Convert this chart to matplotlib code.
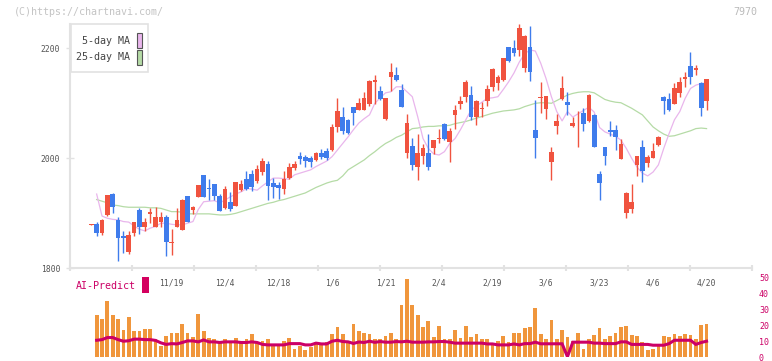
import numpy as np
import matplotlib.pyplot as plt
import matplotlib.transforms as mtransforms
from matplotlib.patches import Rectangle

# ==================================================
# DATA
# ==================================================
opens = [1879, 1880, 1864, 1897, 1935, 1888, 1859, 1830, 1865, 1906,
         1876, 1899, 1876, 1885, 1893, 1846, 1875, 1870, 1931, 1906,
         1930, 1970, 1946, 1954, 1931, 1910, 1921, 1913, 1942, 1962,
         1972, 1958, 1975, 1990, 1955, 1952, 1944, 1965, 1982, 2005,
         2003, 2000, 1997, 2010, 2013, 2015, 2056, 2075, 2070, 2093,
         2088, 2088, 2099, 2139, 2123, 2071, 2147, 2151, 2124, 2010,
         2022, 1985, 2004, 2010, 2019, 2035, 2062, 2030, 2079, 2099,
         2111, 2115, 2075, 2089, 2105, 2129, 2137, 2142, 2202, 2200,
         2196, 2165, 2203, 2051, 2110, 2090, 1994, 2059, 2108, 2103,
         2058, 2067, 2082, 2067, 2079, 1971, 2020, 2051, 2051, 1999,
         1901, 1908, 1987, 2020, 1991, 2001, 2025, 2112, 2108, 2099,
         2119, 2144, 2168, 2161, 2137, 2105]
highs = [1880, 1885, 1889, 1934, 1936, 1894, 1868, 1867, 1884, 1909,
         1891, 1909, 1911, 1902, 1897, 1871, 1909, 1926, 1932, 1913,
         1951, 1970, 1962, 1954, 1935, 1950, 1939, 1956, 1960, 1976,
         1978, 1988, 2000, 1995, 1965, 1956, 1976, 1992, 1995, 2012,
         2006, 2005, 2012, 2017, 2018, 2062, 2109, 2094, 2072, 2094,
         2109, 2121, 2142, 2151, 2131, 2110, 2174, 2166, 2135, 2080,
         2037, 2044, 2026, 2044, 2034, 2054, 2064, 2055, 2097, 2113,
         2143, 2131, 2106, 2103, 2133, 2164, 2151, 2183, 2203, 2215,
         2244, 2225, 2240, 2106, 2139, 2114, 2021, 2081, 2149, 2121,
         2075, 2086, 2091, 2116, 2081, 1977, 2021, 2067, 2060, 2035,
         1939, 1953, 2005, 2034, 2006, 2028, 2040, 2114, 2119, 2137,
         2148, 2157, 2194, 2170, 2139, 2145]
lows = [1878, 1859, 1860, 1895, 1901, 1814, 1828, 1826, 1858, 1862,
        1867, 1882, 1875, 1876, 1822, 1824, 1875, 1869, 1884, 1899,
        1930, 1930, 1925, 1925, 1905, 1907, 1905, 1913, 1940, 1943,
        1940, 1955, 1970, 1924, 1928, 1926, 1935, 1962, 1978, 1990,
        1985, 1985, 1995, 1998, 1996, 2013, 2047, 2044, 2044, 2060,
        2087, 2087, 2095, 2099, 2106, 2070, 2122, 2141, 2093, 2000,
        1979, 1960, 1990, 1978, 2007, 2027, 2034, 1994, 2053, 2090,
        2103, 2069, 2060, 2075, 2095, 2123, 2124, 2141, 2175, 2186,
        2186, 2157, 2141, 2001, 2083, 2071, 1960, 2044, 2106, 2079,
        2057, 2020, 2050, 2066, 2020, 1925, 1987, 2041, 2015, 1998,
        1892, 1900, 1967, 1957, 1984, 2000, 2022, 2080, 2086, 2098,
        2112, 2130, 2135, 2152, 2077, 2088]
closes = [1879, 1864, 1888, 1933, 1911, 1855, 1855, 1860, 1884, 1876,
          1884, 1902, 1894, 1893, 1847, 1847, 1888, 1925, 1885, 1911,
          1951, 1930, 1944, 1931, 1905, 1945, 1907, 1956, 1954, 1945,
          1948, 1980, 1995, 1950, 1947, 1946, 1962, 1985, 1990, 1998,
          1995, 1993, 2010, 2003, 2000, 2057, 2086, 2050, 2046, 2082,
          2100, 2109, 2141, 2142, 2107, 2109, 2157, 2142, 2094, 2065,
          1988, 2009, 2019, 1985, 2033, 2036, 2035, 2050, 2088, 2105,
          2139, 2075, 2105, 2091, 2126, 2162, 2148, 2182, 2176, 2192,
          2237, 2222, 2157, 2037, 2112, 2113, 2012, 2068, 2127, 2096,
          2064, 2068, 2062, 2115, 2021, 1955, 2005, 2048, 2039, 2026,
          1937, 1920, 2004, 1976, 2002, 2014, 2039, 2105, 2088, 2128,
          2139, 2147, 2148, 2164, 2092, 2144]

ma5 = [np.nan, 1935, 1895, 1891, 1889, 1888, 1885, 1884, 1877, 1871,
       1868, 1873, 1876, 1882, 1882, 1880, 1879, 1879, 1882, 1885,
       1907, 1921, 1922, 1923, 1919, 1924, 1930, 1935, 1939, 1945,
       1944, 1942, 1950, 1957, 1964, 1964, 1963, 1962, 1970, 1973,
       1976, 1979, 1985, 1990, 1995, 2003, 2015, 2027, 2039, 2052,
       2064, 2072, 2079, 2100, 2110, 2119, 2121, 2130, 2130, 2121,
       2112, 2076, 2036, 2018, 2008, 2006, 2012, 2027, 2036, 2052,
       2070, 2088, 2095, 2102, 2109, 2110, 2112, 2125, 2139, 2155,
       2175, 2190, 2197, 2195, 2173, 2145, 2112, 2085, 2068, 2085,
       2075, 2081, 2087, 2093, 2084, 2056, 2048, 2044, 2040, 2033,
       2018, 2000, 1984, 1973, 1968, 1975, 1988, 2018, 2045, 2070,
       2085, 2109, 2127, 2133, 2136, 2137]
ma25 = [np.nan, 1925, 1922, 1919, 1915, 1914, 1912, 1911, 1911, 1911,
        1911, 1910, 1910, 1909, 1906, 1903, 1903, 1902, 1899, 1899,
        1899, 1899, 1899, 1898, 1897, 1897, 1898, 1900, 1903, 1906,
        1909, 1912, 1915, 1918, 1920, 1923, 1925, 1928, 1931, 1934,
        1937, 1942, 1947, 1951, 1955, 1958, 1960, 1968, 1979, 1985,
        1991, 1997, 2005, 2012, 2020, 2027, 2032, 2038, 2042, 2048,
        2054, 2055, 2057, 2058, 2058, 2059, 2059, 2060, 2063, 2065,
        2067, 2070, 2073, 2076, 2079, 2082, 2084, 2086, 2087, 2088,
        2090, 2094, 2097, 2100, 2101, 2101, 2100, 2105, 2110, 2115,
        2118, 2120, 2121, 2121, 2119, 2113, 2107, 2104, 2102, 2101,
        2096, 2091, 2085, 2079, 2068, 2057, 2050, 2044, 2040, 2041,
        2044, 2047, 2050, 2054, 2055, 2054]

volume = [np.nan, 26.1, 24.2, 35.4, 26.7, 24.2, 17.3, 25.4, 16.1, 16.7,
          17.9, 17.9, 11.7, 7.3, 13.5, 15.4, 15.4, 21.0, 15.4, 12.9,
          27.3, 16.1, 12.3, 11.7, 10.4, 11.7, 10.4, 12.3, 10.4, 11.7,
          14.8, 9.8, 10.0, 11.1, 6.9, 6.9, 10.0, 12.3, 5.4, 6.9,
          4.2, 6.3, 9.2, 8.5, 9.2, 14.8, 19.2, 14.8, 9.2, 21.0,
          16.1, 15.4, 14.8, 11.7, 11.7, 13.5, 15.4, 11.1, 32.9, 49.2,
          32.9, 26.1, 19.2, 22.9, 12.9, 19.8, 11.1, 11.1, 17.3, 12.3,
          19.8, 12.9, 14.8, 11.1, 11.1, 8.5, 10.4, 13.5, 9.8, 15.4,
          15.4, 18.5, 19.2, 31.0, 14.8, 11.1, 23.5, 11.7, 17.3, 12.9,
          10.4, 15.4, 5.4, 11.7, 14.2, 18.5, 11.7, 13.5, 15.4, 19.2,
          19.8, 14.2, 13.5, 9.8, 4.8, 5.4, 8.0, 13.5, 12.9, 14.8,
          13.5, 14.8, 14.2, 11.1, 20.4, 21.0]
ai_predict = [np.nan, 10.6, 11.0, 12.3, 12.3, 11.0, 10.0, 10.3, 11.3, 11.3,
              11.0, 11.0, 10.5, 9.0, 8.0, 8.5, 8.3, 9.2, 10.2, 10.2,
              9.6, 10.8, 9.6, 9.6, 9.2, 9.6, 9.6, 9.6, 9.2, 9.2,
              9.6, 9.2, 8.0, 7.7, 7.7, 7.7, 7.7, 8.5, 8.5, 8.5,
              7.7, 7.7, 8.8, 8.3, 8.3, 10.0, 10.6, 9.8, 9.6, 8.6,
              9.5, 9.2, 10.0, 9.3, 9.8, 9.4, 9.4, 9.8, 9.6, 10.0,
              9.4, 9.4, 9.4, 9.6, 9.6, 9.8, 9.8, 9.4, 8.8, 8.8,
              8.8, 8.8, 8.8, 8.8, 8.3, 8.3, 7.7, 7.7, 7.7, 8.3,
              7.7, 8.5, 8.5, 9.4, 8.4, 8.4, 8.4, 8.4, 8.4, 0.3,
              9.4, 9.4, 9.4, 9.4, 8.8, 8.8, 8.5, 8.5, 8.5, 9.6,
              9.6, 8.0, 8.0, 8.0, 8.0, 7.5, 7.5, 7.5, 8.5, 10.6,
              10.6, 10.6, 10.6, 8.0, 9.2, 10.0]

date_labels = ["11/19", "12/4", "12/18", "1/6", "1/21", "2/4",
               "2/19", "3/6", "3/23", "4/6", "4/20"]
date_label_idx = [15, 25, 35, 45, 55, 65, 75, 85, 95, 105, 115]
price_ticks = [1800, 2000, 2200]
vol_ticks = [0, 10, 20, 30, 40, 50]

# ==================================================
# STYLE
# ==================================================
W, H, DPI = 772, 361, 100
UP, DOWN = "#f0533f", "#3f7cec"
PINK, GREEN = "#e9b6ec", "#b5dba6"
MAGENTA = "#cc0066"
plt.rcParams["font.family"] = "DejaVu Sans Mono"


def fx(x):
    return x / W


def fy(y):
    return 1 - y / H


x = np.arange(len(closes))
o, h, l, c = map(np.array, (opens, highs, lows, closes))
x_left = -(91.3 - 70) / 5.35
x_right = (752 - 91.3) / 5.35

fig = plt.figure(figsize=(W / DPI, H / DPI), dpi=DPI)
fig.patch.set_facecolor("white")

# ==================================================
# VOLUME / AI-PREDICT PANEL (drawn first, transparent)
# ==================================================
ax2 = fig.add_axes([fx(70), fy(357.2), fx(752) - fx(70), fy(277.3) - fy(357.2)])
ax2.patch.set_visible(False)
ax2.set_xlim(x_left, x_right)
ax2.set_ylim(0, 50)
ax2.bar(x, volume, width=0.7, color="#f0963c", linewidth=0, zorder=2)
ax2.plot(x, ai_predict, color=MAGENTA, lw=2.2, zorder=3,
         solid_joinstyle="miter")
for s in ax2.spines.values():
    s.set_visible(False)
ax2.set_xticks([])
ax2.yaxis.tick_right()
ax2.set_yticks(vol_ticks)
ax2.set_yticklabels([str(v) for v in vol_ticks])
ax2.tick_params(axis="y", length=0, pad=5, labelsize=6, labelcolor=MAGENTA)

fig.text(fx(76), fy(286), "AI-Predict", ha="left", va="center",
         fontsize=7.2, color=MAGENTA)
fig.patches.append(Rectangle((fx(142), fy(293.3)), fx(148.7) - fx(142),
                             fy(276.7) - fy(293.3), transform=fig.transFigure,
                             facecolor="#d4005f", edgecolor="none"))

# ==================================================
# PRICE PANEL
# ==================================================
ax = fig.add_axes([fx(70), fy(268.3), fx(752) - fx(70), fy(24.3) - fy(268.3)])
ax.patch.set_visible(False)
ax.set_xlim(x_left, x_right)
ax.set_ylim(1800, 1800 + (268.3 - 24.3) / 0.55)

ax.plot(x, ma25, color=GREEN, lw=0.9, zorder=2)
ax.plot(x, ma5, color=PINK, lw=0.9, zorder=2)

col = np.where(c >= o, UP, DOWN)
ax.vlines(x, l, h, colors=col, lw=1.0, zorder=3)
body = np.maximum(np.abs(c - o), 1.5)
ax.bar(x, body, bottom=np.minimum(o, c), width=0.86, color=col,
       linewidth=0, zorder=4)

for side in ["top", "right"]:
    ax.spines[side].set_visible(False)
for side in ["left", "bottom"]:
    ax.spines[side].set_color("#e2e2e2")
    ax.spines[side].set_linewidth(1.5)

ax.set_yticks(price_ticks)
ax.set_yticklabels([str(v) for v in price_ticks])
ax.tick_params(axis="y", direction="inout", length=6, width=1, color="#e2e2e2",
               pad=4, labelsize=5.8, labelcolor="#555555")
ax.set_xticks(np.linspace(x_left, x_right, 12))
ax.set_xticklabels([])
ax.tick_params(axis="x", direction="inout", length=5, width=1.5, color="#e2e2e2")

trans = mtransforms.blended_transform_factory(ax.transData, fig.transFigure)
for lab, i in zip(date_labels, date_label_idx):
    ax.text(i, fy(282.5), lab, transform=trans, ha="center", va="center",
            fontsize=5.8, color="#555555", clip_on=False)

# legend box
fig.patches.append(Rectangle((fx(70.7), fy(71.7)), fx(148.3) - fx(70.7),
                             fy(24.3) - fy(71.7), transform=fig.transFigure,
                             facecolor="white", edgecolor="#e2e2e2", lw=1.2,
                             zorder=10))
for name, colr, yc in [("5-day MA", PINK, 40.5), ("25-day MA", GREEN, 57.3)]:
    fig.text(fx(129.5), fy(yc), name, ha="right", va="center", fontsize=7.2,
             color="#444444", zorder=11)
    fig.patches.append(Rectangle((fx(136.5), fy(yc + 7.3)), fx(142.3) - fx(136.5),
                                 fy(yc - 7.3) - fy(yc + 7.3),
                                 transform=fig.transFigure, facecolor=colr,
                                 edgecolor="#555555", lw=0.8, zorder=11))

fig.text(fx(14), fy(12), "(C)https://chartnavi.com/", ha="left", va="center",
         fontsize=7.2, color="#c4c4c4")
fig.text(fx(757), fy(12), "7970", ha="right", va="center",
         fontsize=7.2, color="#bbbbbb")

fig.savefig("out.png", dpi=DPI)
